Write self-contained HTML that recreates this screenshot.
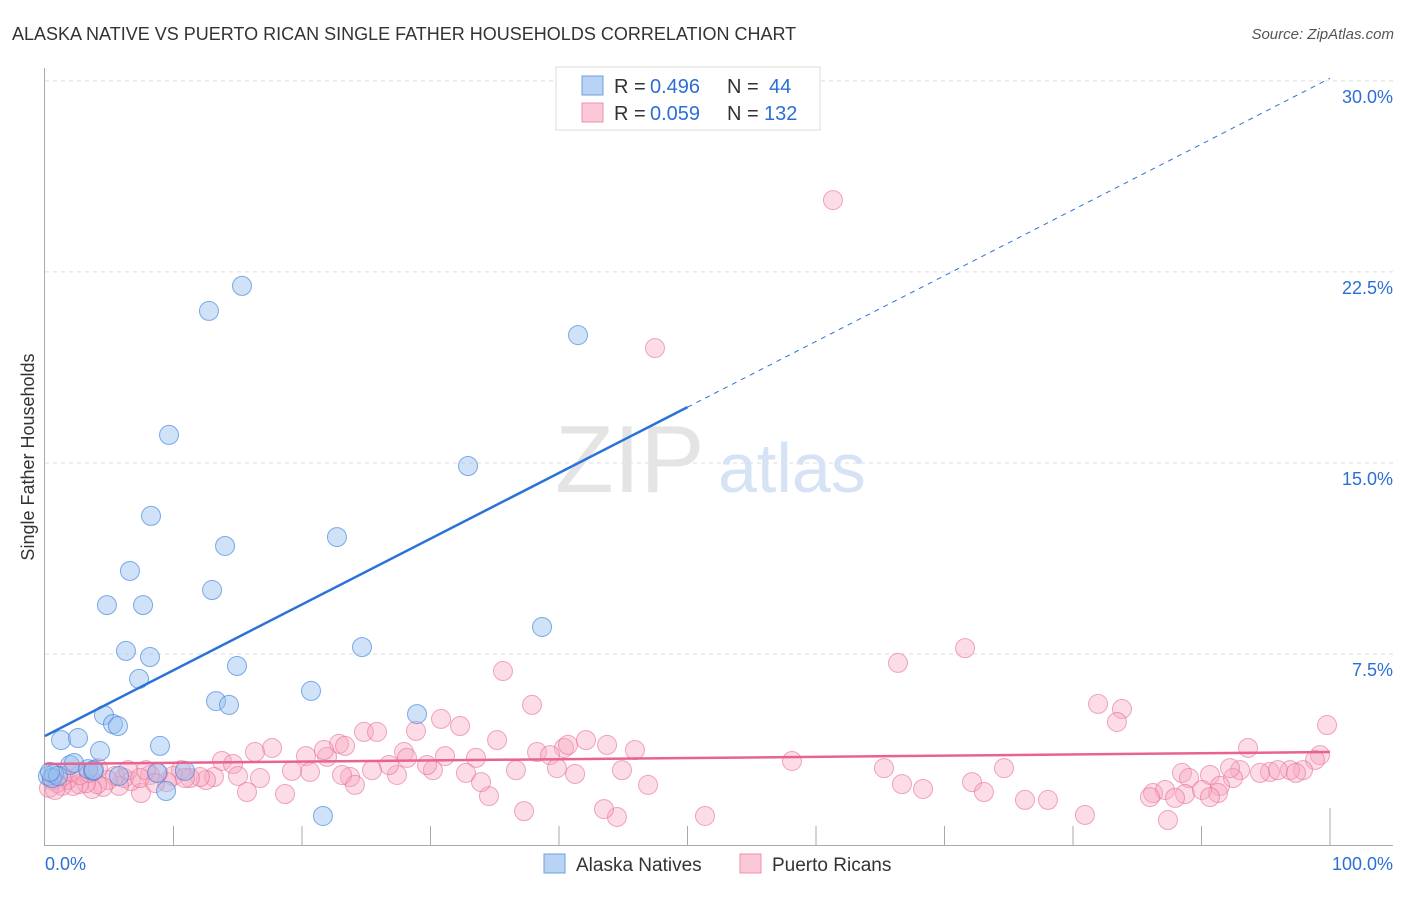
<!DOCTYPE html>
<html><head><meta charset="utf-8"><style>
body{margin:0;background:#fff;font-family:"Liberation Sans",sans-serif;}
svg text{font-family:"Liberation Sans",sans-serif;}
</style></head><body>
<svg id="chart" width="1406" height="892">
<text x="12" y="40" font-size="18" fill="#333">ALASKA NATIVE VS PUERTO RICAN SINGLE FATHER HOUSEHOLDS CORRELATION CHART</text>
<text x="1394" y="39" font-size="15" fill="#555" text-anchor="end" font-style="italic">Source: ZipAtlas.com</text>
<text transform="translate(34,457) rotate(-90)" font-size="18" fill="#333" text-anchor="middle">Single Father Households</text>
<g id="grid"></g>
<text x="555" y="492" font-size="96" fill="#e4e4e4" font-family="Liberation Serif">ZIP</text>
<text x="718" y="492" font-size="70" fill="#d6e3f5">atlas</text>
<g id="marks"></g>
<g>
<rect x="556" y="67" width="264" height="63" fill="#fff" stroke="#ddd"/>
<rect x="582" y="76" width="21" height="19" fill="#b9d3f5" stroke="#6d9fe0"/>
<rect x="582" y="103" width="21" height="19" fill="#fac8d6" stroke="#ec90aa"/>
<text x="614" y="93" font-size="20" fill="#333">R =</text>
<text x="650" y="93" font-size="20" fill="#2b6fd6">0.496</text>
<text x="727" y="93" font-size="20" fill="#333">N =</text>
<text x="769" y="93" font-size="20" fill="#2b6fd6">44</text>
<text x="614" y="120" font-size="20" fill="#333">R =</text>
<text x="650" y="120" font-size="20" fill="#2b6fd6">0.059</text>
<text x="727" y="120" font-size="20" fill="#333">N =</text>
<text x="764" y="120" font-size="20" fill="#2b6fd6">132</text>
</g>
<g>
<rect x="544" y="854" width="21" height="19" fill="#b9d3f5" stroke="#6d9fe0"/>
<text x="576" y="871" font-size="19" fill="#333">Alaska Natives</text>
<rect x="740" y="854" width="21" height="19" fill="#fac8d6" stroke="#ec90aa"/>
<text x="772" y="871" font-size="19" fill="#333">Puerto Ricans</text>
</g>
</svg>
<script>
const yTicks=[7.5,15,22.5,30];
const yTickLabels=["7.5%","15.0%","22.5%","30.0%"];
const xTicks=[0,10,20,30,40,50,60,70,80,90,100];
const blueTrend=[4.28,30.1];
const pinkTrend=[3.18,3.65];
const bluePx=[[242,286],[209,311],[578,335],[169,435],[468,466],[151,516],[337,537],[225,546],[130,571],[212,590],[107,605],[143,605],[542,627],[126,651],[150,657],[362,647],[139,679],[237,666],[311,691],[216,701],[229,705],[417,714],[104,715],[113,724],[118,726],[61,740],[78,738],[160,746],[100,751],[70,765],[74,763],[88,769],[93,771],[54,774],[48,776],[94,770],[119,776],[157,773],[185,771],[166,791],[323,816],[52,778],[58,776],[50,772]];
const pinkPx=[[833,200],[655,348],[898,663],[965,648],[503,671],[1098,704],[1122,709],[1117,722],[532,705],[1327,725],[1248,748],[441,719],[460,726],[364,732],[377,732],[416,731],[339,744],[345,746],[607,745],[564,748],[568,745],[586,740],[635,750],[497,740],[537,752],[550,755],[404,752],[407,758],[445,756],[476,758],[272,748],[255,752],[306,756],[222,761],[233,764],[327,757],[324,750],[792,761],[1320,755],[1315,760],[1303,770],[1290,770],[1270,772],[1278,770],[1260,773],[1296,773],[1240,770],[1233,778],[1210,775],[1230,768],[1182,773],[1220,786],[1218,793],[1189,778],[1153,793],[1165,790],[1185,794],[1150,797],[1202,790],[1210,797],[1175,798],[1168,820],[1085,815],[1025,800],[1048,800],[1004,768],[972,782],[984,792],[923,789],[902,784],[884,768],[705,816],[617,817],[604,809],[524,811],[489,796],[481,782],[516,770],[557,768],[575,774],[622,770],[648,785],[466,773],[433,770],[427,765],[397,775],[389,765],[372,770],[350,777],[355,785],[342,775],[310,772],[292,771],[285,794],[260,778],[247,792],[238,776],[214,777],[206,780],[200,777],[190,778],[181,770],[173,776],[167,782],[158,773],[150,775],[146,770],[141,793],[131,781],[124,778],[119,786],[115,776],[108,780],[103,787],[97,784],[92,789],[86,783],[79,784],[73,786],[67,780],[62,786],[57,783],[52,780],[49,788],[55,790],[63,776],[71,772],[80,775],[89,773],[98,768],[128,770],[185,778],[140,778],[155,783]];
// convert estimated readings to data values (percent)
const blueX=bluePx.map(p=>+((p[0]-45)/12.85).toFixed(2));
const blueY=bluePx.map(p=>+((845-p[1])/25.47).toFixed(2));
const pinkX=pinkPx.map(p=>+((p[0]-45)/12.85).toFixed(2));
const pinkY=pinkPx.map(p=>+((845-p[1])/25.47).toFixed(2));

const X=v=>45+v*12.85, Y=v=>845-v*25.47;
const NS="http://www.w3.org/2000/svg";
const grid=document.getElementById('grid'), marks=document.getElementById('marks');
function mk(tag,attrs,parent){const e=document.createElementNS(NS,tag);for(const k in attrs)e.setAttribute(k,attrs[k]);parent.appendChild(e);return e;}
yTicks.forEach((t,i)=>{
  const l=mk('line',{x1:45,x2:1393,y1:Y(t),y2:Y(t),stroke:'#ddd','stroke-dasharray':'4,4'},grid);
  
  
  const tx=mk('text',{x:1393,y:Y(t)+22,'font-size':18,fill:'#2b6fd6','text-anchor':'end'},grid);
  tx.textContent=yTickLabels[i];
  
  
});
let ax=mk('line',{x1:44.5,x2:44.5,y1:68,y2:845,stroke:'#aaa'},grid);


ax=mk('line',{x1:44,x2:1393,y1:845.5,y2:845.5,stroke:'#aaa'},grid);


xTicks.forEach(t=>{
  if(t===0)return;
  const l=mk('line',{x1:X(t),x2:X(t),y1:t===100?808:826,y2:845,stroke:'#aaa'},grid);
  
  
});
let t0=mk('text',{x:45,y:870,'font-size':18,fill:'#2b6fd6'},grid);t0.textContent='0.0%';


let t1=mk('text',{x:1393,y:870,'font-size':18,fill:'#2b6fd6','text-anchor':'end'},grid);t1.textContent='100.0%';



pinkX.forEach((x,i)=>{
  const c=mk('circle',{cx:X(x),cy:Y(pinkY[i]),r:9.5,fill:'rgba(247,168,192,0.4)',stroke:'rgba(232,110,150,0.6)','stroke-width':1},marks);
  
  
});
blueX.forEach((x,i)=>{
  const c=mk('circle',{cx:X(x),cy:Y(blueY[i]),r:9.5,fill:'rgba(150,190,240,0.45)',stroke:'rgba(60,130,220,0.65)','stroke-width':1},marks);
  
  
});
const bAt=v=>blueTrend[0]+(blueTrend[1]-blueTrend[0])*v/100;
let l=mk('line',{x1:X(0),y1:Y(bAt(0)),x2:X(50),y2:Y(bAt(50)),stroke:'#2a72d8','stroke-width':2.5},marks);


l=mk('line',{x1:X(50),y1:Y(bAt(50)),x2:X(100),y2:Y(bAt(100)),stroke:'#2a72d8','stroke-width':1,'stroke-dasharray':'5,5'},marks);


l=mk('line',{x1:X(0),y1:Y(pinkTrend[0]),x2:X(100),y2:Y(pinkTrend[1]),stroke:'#e8638f','stroke-width':2.5},marks);


</script>
</body></html>
